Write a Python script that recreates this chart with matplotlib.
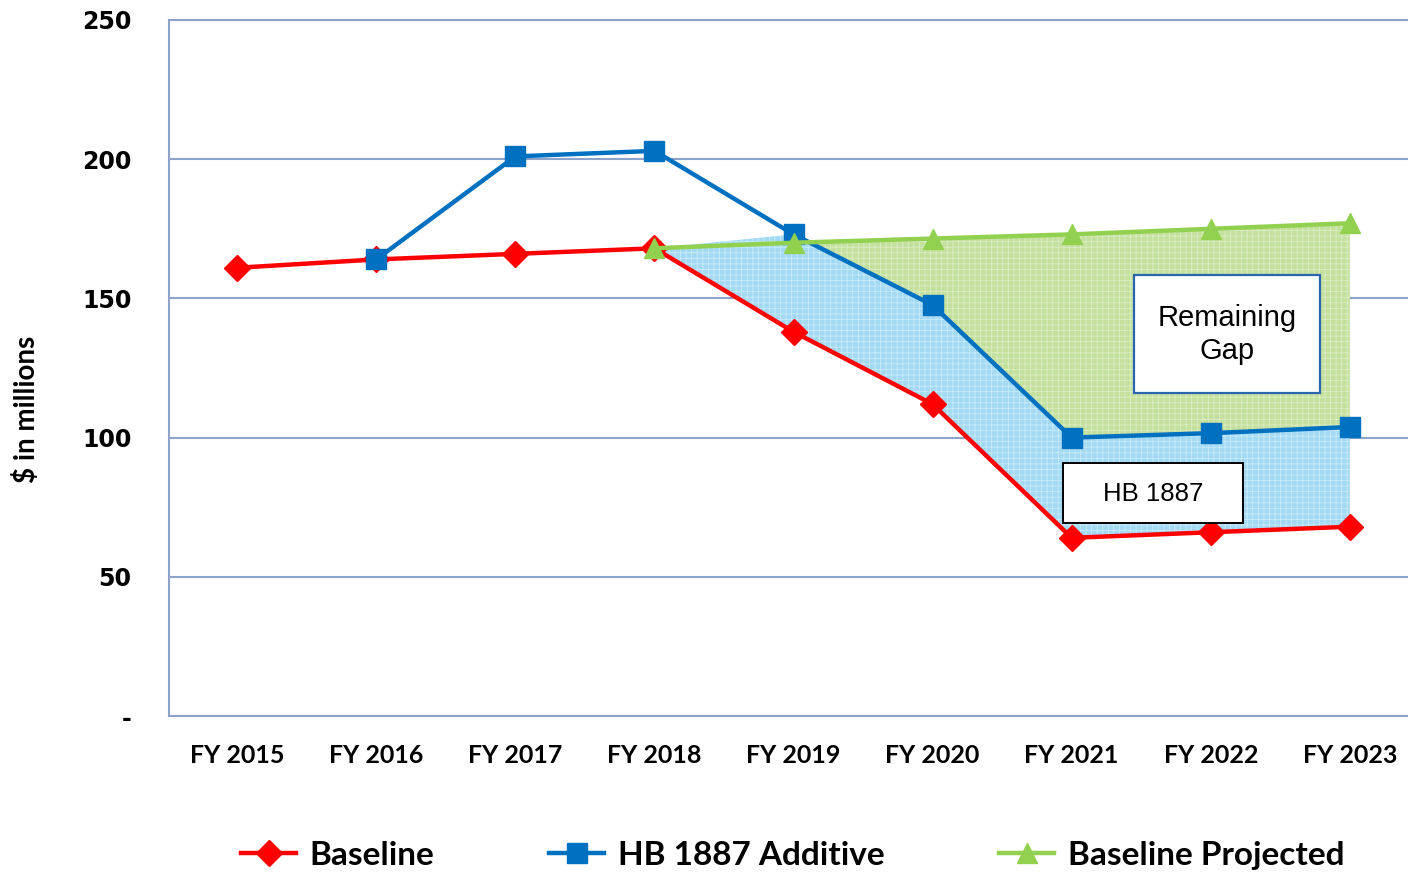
import matplotlib
matplotlib.use("Agg")
import matplotlib.pyplot as plt
import numpy as np
from matplotlib.patches import Rectangle

# data ($ in millions)
years = ['FY 2015', 'FY 2016', 'FY 2017', 'FY 2018', 'FY 2019',
         'FY 2020', 'FY 2021', 'FY 2022', 'FY 2023']
baseline = [161, 164, 166, 168, 138, 112, 64, 66, 68]
hb_additive = [None, 164, 201, 203, 173, 147.6, 100, 101.6, 103.8]
projected = [None, None, None, 168, 170, 171.5, 173, 175, 177]
yticks = [0, 50, 100, 150, 200, 250]
ytick_labels = ['-', '50', '100', '150', '200', '250']

RED = '#ff0000'
BLUE = '#0070c0'
GREEN = '#92d050'
GRID = '#8ea3cc'

plt.rcParams['hatch.linewidth'] = 0.6

x = np.arange(len(years))
base = np.array(baseline, dtype=float)
hb = np.array([np.nan if v is None else v for v in hb_additive])
proj = np.array([np.nan if v is None else v for v in projected])

fig = plt.figure(figsize=(14.08, 8.72), dpi=100)
ax = fig.add_axes([169/1408, 156/872, 1 - 169/1408, 696/872])

# shaded areas from FY 2018 onwards
k = 3
xs = x[k:]
hb_top = hb[k:].copy()
hb_top[0] = base[k]  # area starts at the baseline in FY 2018
ax.fill_between(xs, base[k:], hb_top, facecolor='#a3d9f3', edgecolor='#c8ebfb',
                hatch='+++', linewidth=0, zorder=1)
ax.fill_between(xs, hb_top, proj[k:], where=proj[k:] >= hb_top, interpolate=True,
                facecolor='#c3e09d', edgecolor='#dcedc4', hatch='+++',
                linewidth=0, zorder=1)

ax.plot(x, base, color=RED, lw=3.2, marker='D', ms=13, label='Baseline', zorder=3)
ax.plot(x, hb, color=BLUE, lw=3.2, marker='s', ms=14, label='HB 1887 Additive', zorder=4)
ax.plot(x, proj, color=GREEN, lw=3.2, marker='^', ms=14, label='Baseline Projected', zorder=5)

# annotation boxes
ax.add_patch(Rectangle((6.447, 116.0), 1.336, 42.4, facecolor='white',
                       edgecolor='#2a66b0', lw=1.6, zorder=6))
ax.text(6.447 + 1.336/2, 137.0, 'Remaining\nGap', ha='center', va='center',
        fontsize=21, family='Liberation Sans', linespacing=1.2, zorder=7)
ax.add_patch(Rectangle((5.937, 69.3), 1.294, 21.6, facecolor='white',
                       edgecolor='black', lw=1.4, zorder=6))
ax.text(5.937 + 1.294/2, 79.7, 'HB 1887', ha='center', va='center',
        fontsize=18.5, family='Liberation Sans', zorder=7)

ax.set_xlim(-0.49, 8.418)
ax.set_ylim(0, 250)
ax.set_xticks(x, labels=years, fontsize=18, fontweight='bold', family='Lato')
ax.set_yticks(yticks, labels=ytick_labels, fontsize=17, fontweight='bold',
              family='DejaVu Sans')
ax.tick_params(axis='y', length=0, pad=27)
ax.tick_params(axis='x', length=0, pad=20)

ax.grid(axis='y', color=GRID, lw=1.5, zorder=0)
ax.set_axisbelow(True)
for s in ['left', 'bottom', 'top']:
    ax.spines[s].set_color(GRID)
    ax.spines[s].set_linewidth(1.5)
ax.spines['right'].set_visible(False)

ax.set_ylabel('$ in millions', fontsize=20, fontweight='bold', family='Lato')
ax.yaxis.set_label_coords(-0.104, 0.44)

fig.legend(loc='center', bbox_to_anchor=(0.563, 0.019), ncol=3, frameon=False,
           prop={'family': 'Lato', 'weight': 'bold', 'size': 24},
           handlelength=1.65, handletextpad=0.4, columnspacing=3.45)

fig.savefig('out.png', dpi=100)
